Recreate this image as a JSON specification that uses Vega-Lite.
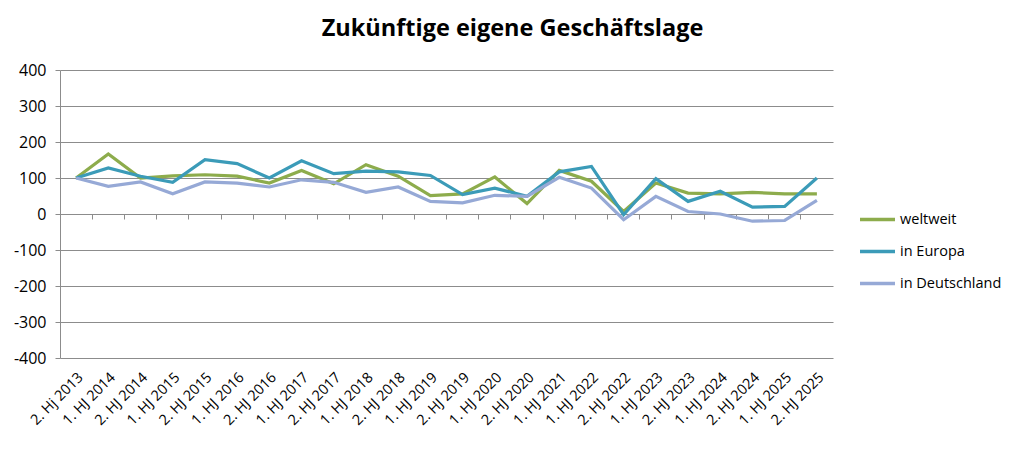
{
  "$schema": "https://vega.github.io/schema/vega-lite/v6.json",
  "width": 773,
  "height": 288,
  "autosize": {"type": "none"},
  "padding": {"left": 60, "top": 70, "right": 191, "bottom": 94},
  "background": "white",
  "title": {
    "text": "Zukünftige eigene Geschäftslage",
    "anchor": "middle",
    "dx": 66,
    "offset": -2,
    "baseline": "bottom",
    "font": "Open Sans",
    "fontSize": 23.5,
    "fontWeight": "bold",
    "color": "#000000"
  },
  "config": {
    "view": {"stroke": null},
    "font": "Open Sans"
  },
  "data": {
    "values": [
      {"p": "2. Hj 2013", "s": "weltweit", "v": 100},
      {"p": "1. HJ 2014", "s": "weltweit", "v": 167},
      {"p": "2. HJ 2014", "s": "weltweit", "v": 100},
      {"p": "1. HJ 2015", "s": "weltweit", "v": 106},
      {"p": "2. HJ 2015", "s": "weltweit", "v": 109},
      {"p": "1. HJ 2016", "s": "weltweit", "v": 105},
      {"p": "2. HJ 2016", "s": "weltweit", "v": 86},
      {"p": "1. HJ 2017", "s": "weltweit", "v": 121},
      {"p": "2. HJ 2017", "s": "weltweit", "v": 84},
      {"p": "1. HJ 2018", "s": "weltweit", "v": 137},
      {"p": "2. HJ 2018", "s": "weltweit", "v": 105},
      {"p": "1. HJ 2019", "s": "weltweit", "v": 51},
      {"p": "2. HJ 2019", "s": "weltweit", "v": 56},
      {"p": "1. HJ 2020", "s": "weltweit", "v": 103},
      {"p": "2. HJ 2020", "s": "weltweit", "v": 29},
      {"p": "1. HJ 2021", "s": "weltweit", "v": 121},
      {"p": "1. HJ 2022", "s": "weltweit", "v": 91},
      {"p": "2. HJ 2022", "s": "weltweit", "v": 7},
      {"p": "1. HJ 2023", "s": "weltweit", "v": 86},
      {"p": "2. HJ 2023", "s": "weltweit", "v": 58},
      {"p": "1. HJ 2024", "s": "weltweit", "v": 56},
      {"p": "2. HJ 2024", "s": "weltweit", "v": 60},
      {"p": "1. HJ 2025", "s": "weltweit", "v": 56},
      {"p": "2. HJ 2025", "s": "weltweit", "v": 56},
      {"p": "2. Hj 2013", "s": "in Europa", "v": 100},
      {"p": "1. HJ 2014", "s": "in Europa", "v": 128},
      {"p": "2. HJ 2014", "s": "in Europa", "v": 105},
      {"p": "1. HJ 2015", "s": "in Europa", "v": 88},
      {"p": "2. HJ 2015", "s": "in Europa", "v": 151},
      {"p": "1. HJ 2016", "s": "in Europa", "v": 140},
      {"p": "2. HJ 2016", "s": "in Europa", "v": 100},
      {"p": "1. HJ 2017", "s": "in Europa", "v": 148},
      {"p": "2. HJ 2017", "s": "in Europa", "v": 112},
      {"p": "1. HJ 2018", "s": "in Europa", "v": 119},
      {"p": "2. HJ 2018", "s": "in Europa", "v": 117},
      {"p": "1. HJ 2019", "s": "in Europa", "v": 107},
      {"p": "2. HJ 2019", "s": "in Europa", "v": 54},
      {"p": "1. HJ 2020", "s": "in Europa", "v": 72},
      {"p": "2. HJ 2020", "s": "in Europa", "v": 49},
      {"p": "1. HJ 2021", "s": "in Europa", "v": 117},
      {"p": "1. HJ 2022", "s": "in Europa", "v": 132},
      {"p": "2. HJ 2022", "s": "in Europa", "v": -2},
      {"p": "1. HJ 2023", "s": "in Europa", "v": 98},
      {"p": "2. HJ 2023", "s": "in Europa", "v": 35},
      {"p": "1. HJ 2024", "s": "in Europa", "v": 63},
      {"p": "2. HJ 2024", "s": "in Europa", "v": 19},
      {"p": "1. HJ 2025", "s": "in Europa", "v": 21},
      {"p": "2. HJ 2025", "s": "in Europa", "v": 100},
      {"p": "2. Hj 2013", "s": "in Deutschland", "v": 100},
      {"p": "1. HJ 2014", "s": "in Deutschland", "v": 77},
      {"p": "2. HJ 2014", "s": "in Deutschland", "v": 89},
      {"p": "1. HJ 2015", "s": "in Deutschland", "v": 56},
      {"p": "2. HJ 2015", "s": "in Deutschland", "v": 89},
      {"p": "1. HJ 2016", "s": "in Deutschland", "v": 86},
      {"p": "2. HJ 2016", "s": "in Deutschland", "v": 75},
      {"p": "1. HJ 2017", "s": "in Deutschland", "v": 95},
      {"p": "2. HJ 2017", "s": "in Deutschland", "v": 88},
      {"p": "1. HJ 2018", "s": "in Deutschland", "v": 60},
      {"p": "2. HJ 2018", "s": "in Deutschland", "v": 75},
      {"p": "1. HJ 2019", "s": "in Deutschland", "v": 35},
      {"p": "2. HJ 2019", "s": "in Deutschland", "v": 31},
      {"p": "1. HJ 2020", "s": "in Deutschland", "v": 52},
      {"p": "2. HJ 2020", "s": "in Deutschland", "v": 49},
      {"p": "1. HJ 2021", "s": "in Deutschland", "v": 102},
      {"p": "1. HJ 2022", "s": "in Deutschland", "v": 72},
      {"p": "2. HJ 2022", "s": "in Deutschland", "v": -16},
      {"p": "1. HJ 2023", "s": "in Deutschland", "v": 49},
      {"p": "2. HJ 2023", "s": "in Deutschland", "v": 7},
      {"p": "1. HJ 2024", "s": "in Deutschland", "v": 0},
      {"p": "2. HJ 2024", "s": "in Deutschland", "v": -20},
      {"p": "1. HJ 2025", "s": "in Deutschland", "v": -18},
      {"p": "2. HJ 2025", "s": "in Deutschland", "v": 38}
    ]
  },
  "resolve": {"axis": {"x": "independent"}},
  "encoding": {
    "y": {
      "field": "v",
      "type": "quantitative",
      "scale": {"domain": [-400, 400], "nice": false, "zero": false},
      "axis": {
        "title": null,
        "values": [-400, -300, -200, -100, 0, 100, 200, 300, 400],
        "labelExpr": "toString(datum.value)",
        "labelOverlap": false,
        "grid": true,
        "gridColor": "#8c8c8c",
        "gridWidth": 1,
        "domain": true,
        "domainColor": "#8c8c8c",
        "ticks": true,
        "tickSize": 5,
        "tickColor": "#8c8c8c",
        "labelPadding": 9,
        "labelFont": "Open Sans",
        "labelFontSize": 16,
        "labelColor": "#000000"
      }
    }
  },
  "layer": [
    {
      "mark": {"type": "line", "strokeWidth": 3.2, "strokeJoin": "miter"},
      "encoding": {
        "x": {
          "field": "p",
          "type": "nominal",
          "sort": null,
          "bandPosition": 0.5,
          "scale": {"type": "band", "paddingInner": 0, "paddingOuter": 0},
          "axis": {
            "title": null,
            "orient": "bottom",
            "domain": false,
            "ticks": false,
            "grid": false,
            "labelAngle": -45,
            "labelAlign": "right",
            "labelBaseline": "top",
            "labelPadding": 12,
            "labelDx": 3,
            "labelFont": "Open Sans",
            "labelFontSize": 14.5,
            "labelColor": "#000000",
            "labelOverlap": false,
            "labelBound": false
          }
        },
        "color": {
          "field": "s",
          "type": "nominal",
          "sort": null,
          "scale": {
            "domain": ["weltweit", "in Europa", "in Deutschland"],
            "range": ["#8DAC4C", "#3B9BB8", "#96A9D6"]
          },
          "legend": {
            "title": null,
            "orient": "none",
            "legendX": 798,
            "legendY": 130,
            "symbolType": "stroke",
            "symbolSize": 1225,
            "symbolStrokeWidth": 3.5,
            "labelFont": "Open Sans",
            "labelFontSize": 14.5,
            "labelColor": "#000000",
            "labelOffset": 3,
            "rowPadding": 5
          }
        }
      }
    },
    {
      "mark": {"type": "point", "opacity": 0},
      "encoding": {
        "x": {
          "field": "p",
          "type": "nominal",
          "sort": null,
          "axis": {
            "title": null,
            "orient": "bottom",
            "offset": -144,
            "labels": false,
            "domain": false,
            "grid": false,
            "ticks": true,
            "tickSize": 5,
            "tickColor": "#8c8c8c",
            "bandPosition": 0
          }
        }
      }
    }
  ]
}
